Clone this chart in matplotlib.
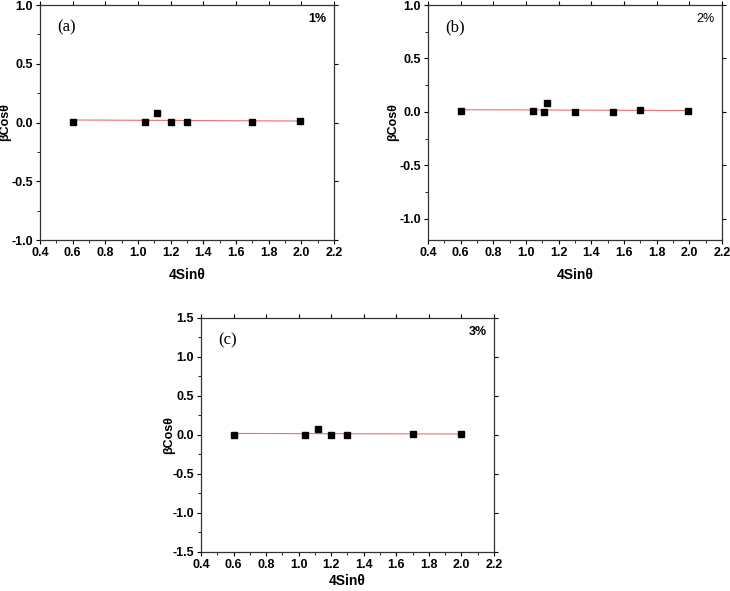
import numpy as np
import matplotlib
matplotlib.use('Agg')
import matplotlib.pyplot as plt
from matplotlib.ticker import MultipleLocator

plt.rcParams['font.family'] = ['Liberation Sans', 'DejaVu Sans']
plt.rcParams['axes.unicode_minus'] = False

#%% data
x_a = [0.605, 1.04, 1.115, 1.20, 1.30, 1.70, 1.995]
y_a = [0.005, 0.005, 0.080, 0.008, 0.005, 0.008, 0.010]

x_b = [0.605, 1.04, 1.11, 1.13, 1.30, 1.535, 1.70, 1.995]
y_b = [0.008, 0.005, 0.003, 0.080, 0.003, 0.003, 0.015, 0.010]

x_c = [0.605, 1.04, 1.12, 1.20, 1.30, 1.70, 1.995]
y_c = [0.005, 0.005, 0.075, 0.005, 0.005, 0.008, 0.010]

panels = ['(a)', '(b)', '(c)']
conc = ['1%', '2%', '3%']
ylims = [(-1.0, 1.0), (-1.2, 1.0), (-1.5, 1.5)]

#%%
fig = plt.figure(figsize=(7.3, 5.91), dpi=100)
rects = [[0.0548, 0.5939, 0.4027, 0.3976],
         [0.5863, 0.5939, 0.4027, 0.3976],
         [0.2753, 0.0660, 0.4014, 0.3960]]
ylab_x = [-0.098, -0.098, -0.088]
xlab_y = [-0.12, -0.12, -0.095]

datasets = [(x_a, y_a), (x_b, y_b), (x_c, y_c)]

for ii in range(3):
    ax = fig.add_axes(rects[ii])
    xx, yy = datasets[ii]
    p = np.polyfit(xx, yy, 1)
    xf = np.array([min(xx), max(xx)])
    ax.plot(xf, np.polyval(p, xf), color='#f07070', lw=0.8, zorder=1)
    ax.plot(xx, yy, 's', color='black', ms=4.5, zorder=2)
    ax.set_xlim(0.4, 2.2)
    ax.set_ylim(*ylims[ii])
    ax.xaxis.set_major_locator(MultipleLocator(0.2))
    ax.xaxis.set_minor_locator(MultipleLocator(0.1))
    ax.yaxis.set_major_locator(MultipleLocator(0.5))
    ax.yaxis.set_minor_locator(MultipleLocator(0.25))
    ax.tick_params(which='major', direction='out', length=3, width=0.8,
                   labelsize=9, pad=2)
    ax.tick_params(which='minor', direction='out', length=2, width=0.6)
    ax.tick_params(which='major', top=True, right=True)
    for lab in ax.get_xticklabels() + ax.get_yticklabels():
        lab.set_fontweight('bold')
    for s in ax.spines.values():
        s.set_linewidth(0.9)
        s.set_color('#333333')
    ax.set_xlabel('4Sinθ', fontsize=10, fontweight='bold')
    ax.xaxis.set_label_coords(0.5, xlab_y[ii])
    ax.set_ylabel('βCosθ', fontsize=9, fontweight='bold')
    ax.yaxis.set_label_coords(ylab_x[ii], 0.5)
    ax.text(0.06, 0.94, panels[ii], transform=ax.transAxes, fontsize=12,
            family='Liberation Serif', va='top', ha='left')
    ax.text(0.975, 0.965, conc[ii], transform=ax.transAxes, fontsize=9,
            fontweight='normal' if ii == 1 else 'bold', va='top', ha='right')

fig.savefig('out.png', dpi=100)
